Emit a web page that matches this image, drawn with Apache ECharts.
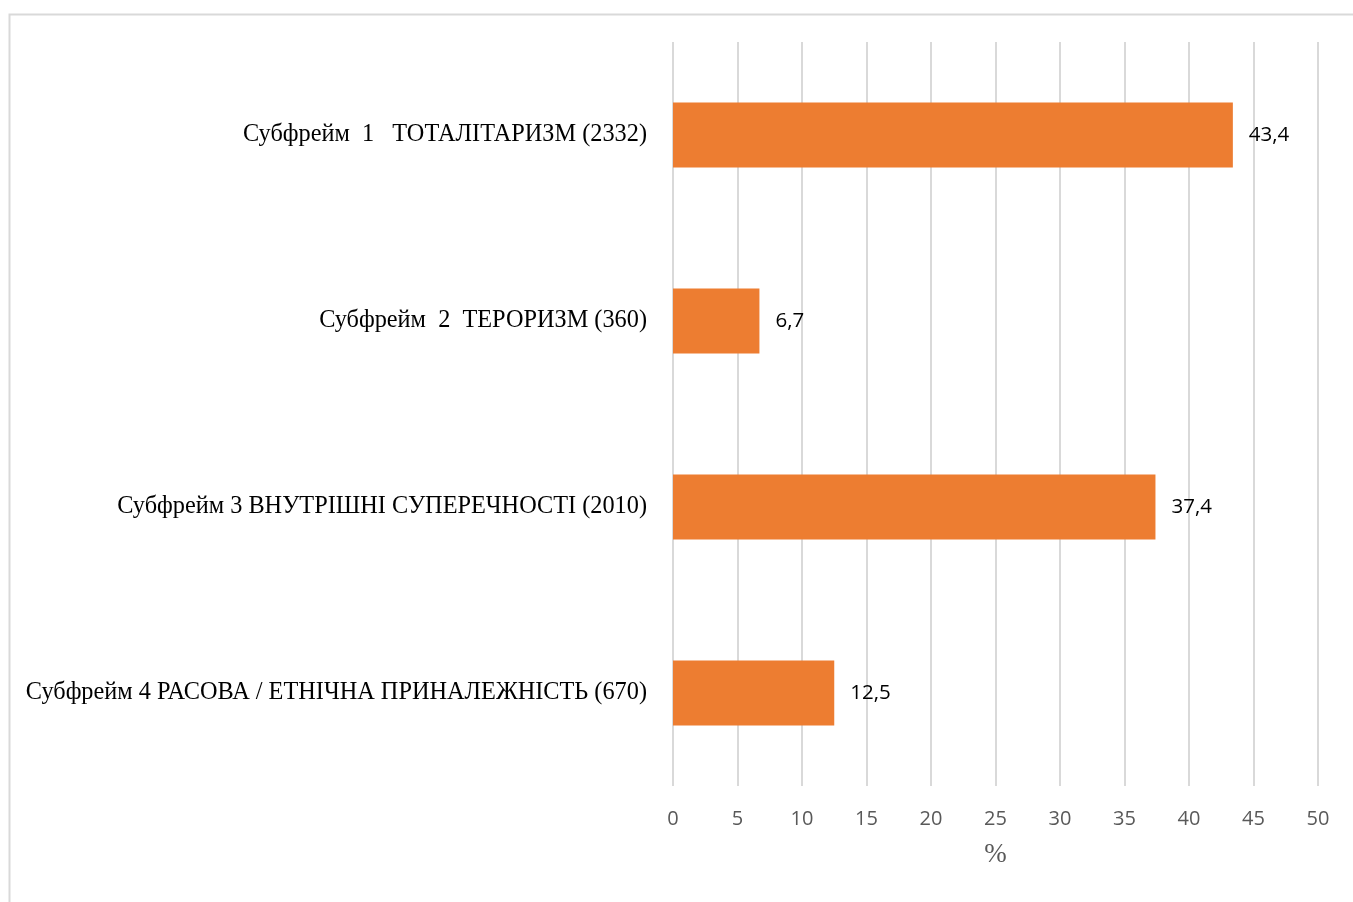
<!DOCTYPE html>
<html>
<head>
<meta charset="utf-8">
<script src="https://cdn.jsdelivr.net/npm/echarts@6/dist/echarts.min.js"></script>
<style>
  html, body { margin: 0; padding: 0; background: #ffffff; }
  #chart { width: 1353px; height: 902px; }
</style>
</head>
<body>
<div id="chart"></div>
<script>
// Subframe categories (top to bottom) and their shares, %
const categories = [
  'Субфрейм  1   ТОТАЛІТАРИЗМ (2332)',
  'Субфрейм  2  ТЕРОРИЗМ (360)',
  'Субфрейм 3 ВНУТРІШНІ СУПЕРЕЧНОСТІ (2010)',
  'Субфрейм 4 РАСОВА / ЕТНІЧНА ПРИНАЛЕЖНІСТЬ (670)'
];
const shares = [43.4, 6.7, 37.4, 12.5];
const axisMin = 0;
const axisMax = 50;
const axisStep = 5;

const chart = echarts.init(document.getElementById('chart'), null, { renderer: 'canvas' });

chart.setOption({
  backgroundColor: '#ffffff',
  animation: false,
  graphic: [{
    type: 'rect',
    silent: true,
    shape: { x: 9.5, y: 14.5, width: 1400, height: 1000 },
    style: { fill: 'none', stroke: '#d9d9d9', lineWidth: 2 }
  }],
  grid: { left: 673, right: 35, top: 42, bottom: 116, containLabel: false },
  xAxis: {
    type: 'value',
    min: axisMin,
    max: axisMax,
    interval: axisStep,
    name: '%',
    nameLocation: 'middle',
    nameGap: 55,
    nameTextStyle: { fontFamily: 'Liberation Serif', fontSize: 27, color: '#595959' },
    axisLine: { show: false },
    axisTick: { show: false },
    axisLabel: {
      margin: 23,
      fontFamily: 'Open Sans',
      fontSize: 20,
      color: '#595959'
    },
    splitLine: { show: true, lineStyle: { color: '#d9d9d9', width: 2 } }
  },
  yAxis: {
    type: 'category',
    inverse: true,
    data: categories,
    axisLine: { show: false },
    axisTick: { show: false },
    axisLabel: {
      margin: 26,
      fontFamily: 'Liberation Serif',
      fontSize: 24.3,
      color: '#000000',
      padding: [0, 0, -6, 0]
    }
  },
  series: [{
    type: 'bar',
    data: shares,
    barWidth: 65,
    itemStyle: { color: '#ED7D31' },
    label: {
      show: true,
      position: 'right',
      distance: 16,
      fontFamily: 'Open Sans',
      fontSize: 20.5,
      color: '#000000',
      padding: [0, 0, -4, 0],
      formatter: p => String(p.value).replace('.', ',')
    }
  }]
});
</script>
</body>
</html>
